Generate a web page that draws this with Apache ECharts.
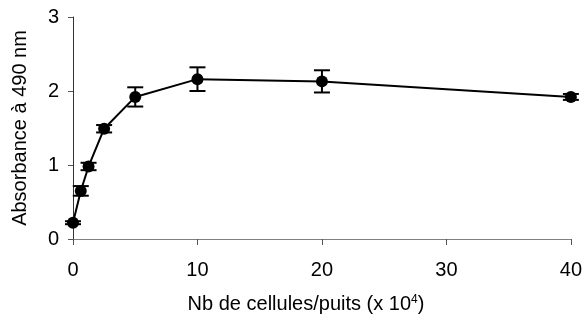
<!DOCTYPE html>
<html>
<head>
<meta charset="utf-8">
<script src="https://cdn.jsdelivr.net/npm/echarts@6/dist/echarts.min.js"></script>
<style>
  html, body { margin: 0; padding: 0; background: #fff; }
  #chart { width: 585px; height: 322px; }
</style>
</head>
<body>
<div id="chart"></div>
<script>
// Cell count per well (x 10^4)
const cellCounts = [0, 0.625, 1.25, 2.5, 5, 10, 20, 40];
// Mean absorbance at 490 nm
const absorbance = [0.22, 0.65, 0.98, 1.49, 1.92, 2.16, 2.13, 1.92];
// Standard deviation for each mean
const stdDev = [0.02, 0.065, 0.05, 0.05, 0.13, 0.16, 0.15, 0.04];
const xTicks = [0, 10, 20, 30, 40];
const yTicks = [0, 1, 2, 3];

const FONT = 'Liberation Sans, Arial, sans-serif';

const chart = echarts.init(document.getElementById('chart'), null, { renderer: 'canvas' });

const pointData = cellCounts.map((x, i) => [x, absorbance[i]]);
const errData = cellCounts.map((x, i) => [x, absorbance[i] - stdDev[i], absorbance[i] + stdDev[i]]);

chart.setOption({
  animation: false,
  backgroundColor: '#fff',
  grid: { left: 73, right: 14, top: 17, bottom: 83 },
  xAxis: {
    type: 'value',
    min: xTicks[0],
    max: xTicks[xTicks.length - 1],
    interval: 10,
    splitLine: { show: false },
    axisLine: { show: true, lineStyle: { color: '#808080', width: 1 } },
    axisTick: { show: true, inside: false, length: 6, lineStyle: { color: '#555', width: 1 } },
    axisLabel: { color: '#000', fontSize: 20, fontFamily: FONT, margin: 21 }
  },
  yAxis: {
    type: 'value',
    min: yTicks[0],
    max: yTicks[yTicks.length - 1],
    interval: 1,
    splitLine: { show: false },
    axisLine: { show: true, lineStyle: { color: '#333', width: 1 } },
    axisTick: { show: true, inside: false, length: 5, lineStyle: { color: '#555', width: 1 } },
    axisLabel: { color: '#000', fontSize: 20, fontFamily: FONT, margin: 14 },
    name: 'Absorbance à 490 nm',
    nameLocation: 'middle',
    nameGap: 43,
    nameRotate: 90,
    nameTextStyle: { color: '#000', fontSize: 20, fontFamily: FONT }
  },
  graphic: [{
    type: 'text',
    x: 306,
    y: 304,
    style: {
      text: 'Nb de cellules/puits (x 10{sup|4})',
      fill: '#000',
      fontSize: 20,
      fontFamily: FONT,
      textAlign: 'center',
      textVerticalAlign: 'middle',
      rich: {
        sup: { fontSize: 12, fontFamily: FONT, fill: '#000', verticalAlign: 'top', padding: [0, 0, 8, 0] }
      }
    }
  }],
  series: [
    {
      type: 'custom',
      z: 3,
      renderItem: function (params, api) {
        const x = api.value(0);
        const lo = api.coord([x, api.value(1)]);
        const hi = api.coord([x, api.value(2)]);
        const half = 8;
        const style = { stroke: '#000', lineWidth: 2 };
        return {
          type: 'group',
          children: [
            { type: 'line', shape: { x1: lo[0], y1: lo[1], x2: hi[0], y2: hi[1] }, style },
            { type: 'line', shape: { x1: lo[0] - half, y1: lo[1], x2: lo[0] + half, y2: lo[1] }, style },
            { type: 'line', shape: { x1: hi[0] - half, y1: hi[1], x2: hi[0] + half, y2: hi[1] }, style }
          ]
        };
      },
      encode: { x: 0, y: [1, 2] },
      data: errData
    },
    {
      type: 'line',
      z: 4,
      data: pointData,
      symbol: 'circle',
      symbolSize: 12,
      lineStyle: { color: '#000', width: 2 },
      itemStyle: { color: '#000' }
    }
  ]
});
</script>
</body>
</html>
